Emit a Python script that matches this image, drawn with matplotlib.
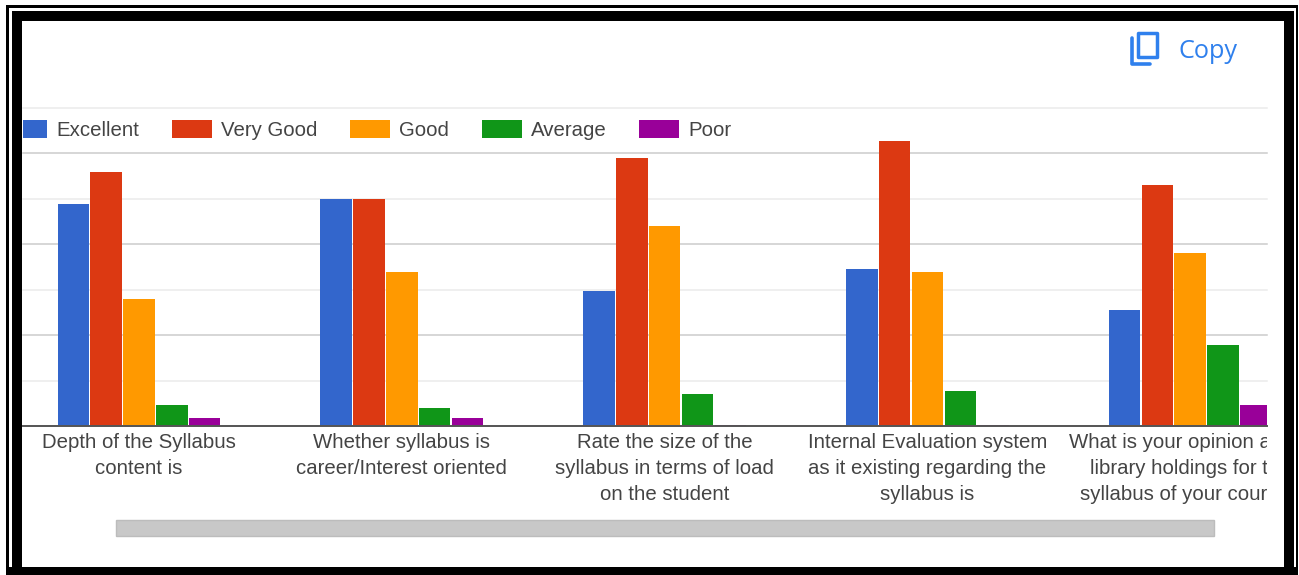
#!/usr/bin/env python3

import numpy as np
import matplotlib
matplotlib.use('Agg')
import matplotlib.pyplot as plt
from matplotlib.lines import Line2D
from matplotlib.patches import Rectangle
from matplotlib.transforms import Bbox, TransformedBbox

W, H = 1299, 575

categories = [
    "Depth of the Syllabus\ncontent is",
    "Whether syllabus is\ncareer/Interest oriented",
    "Rate the size of the\nsyllabus in terms of load\non the student",
    "Internal Evaluation system\nas it existing regarding the\nsyllabus is",
    "What is your opinion about\nlibrary holdings for the\nsyllabus of your course?",
]
series_names = ["Excellent", "Very Good", "Good", "Average", "Poor"]
excellent = [48.9, 50.0, 29.7, 34.6, 25.5]
very_good = [55.9, 50.0, 59.0, 62.7, 53.0]
good = [28.0, 33.9, 44.0, 33.9, 38.0]
average = [4.6, 4.0, 7.0, 7.7, 17.8]
poor = [1.8, 1.8, 0.3, 0.3, 4.6]
colors = ["#3366cc", "#dc3912", "#ff9900", "#109618", "#990099"]
major_ticks = [0, 20, 40, 60]
minor_ticks = [10, 30, 50, 70]

plt.rcParams['font.family'] = ['Liberation Sans', 'DejaVu Sans']
TEXT = "#444444"
BLUE = "#2f80ed"
FONT = 14.7


def fig_box(x0, y0, x1, y1, **kw):
    # rectangle given in picture pixels, y going down
    return Rectangle((x0 / W, 1 - y1 / H), (x1 - x0) / W, (y1 - y0) / H,
                     transform=fig.transFigure, **kw)


fig = plt.figure(figsize=(W / 100, H / 100), dpi=100, facecolor='white')

ax = fig.add_axes([23 / W, 1 - 426 / H, (1267 - 23) / W, (426 - 108) / H])
ax.set_xlim(-0.4414, 4.292)
ax.set_ylim(0, 70)
ax.set_axisbelow(True)

x = np.arange(len(categories))
pitch = 1 / 8
all_series = [excellent, very_good, good, average, poor]
for j, values in enumerate(all_series):
    ax.bar(x + (j - 2) * pitch, values, width=pitch * 0.96,
           color=colors[j], label=series_names[j])

# alternating grid, the even lines are darker
ax.set_yticks(major_ticks)
ax.set_yticks(minor_ticks, minor=True)
ax.tick_params(axis='y', which='both', length=0, labelleft=False)
ax.tick_params(axis='x', length=0, pad=5.2, labelsize=FONT, labelcolor=TEXT)
ax.grid(axis='y', which='major', color="#cccccc", lw=1.1, clip_on=False)
ax.grid(axis='y', which='minor', color="#ebebeb", lw=1.1, clip_on=False)
for name in ['top', 'left', 'right']:
    ax.spines[name].set_visible(False)
ax.spines['bottom'].set_color("#555555")
ax.spines['bottom'].set_linewidth(1.4)

ax.set_xticks(x)
labels = ax.set_xticklabels(categories, linespacing=1.47)
clip = TransformedBbox(Bbox([[0, 0], [1267 / W, 1]]), fig.transFigure)
for lab in labels:
    lab.set_clip_on(True)
    lab.set_clip_box(clip)

leg = ax.legend(ncol=5, frameon=False, fontsize=FONT, labelcolor=TEXT,
                loc='center left', bbox_to_anchor=((7 - 23) / (1267 - 23), 0.931),
                borderpad=0, borderaxespad=0, handlelength=1.96, handleheight=1.0,
                handletextpad=0.45, columnspacing=1.6)
for p in leg.get_patches():
    p.set_clip_box(ax.bbox)
    p.set_clip_on(True)

# scroll bar
fig.add_artist(fig_box(115.5, 520, 1213.5, 536, facecolor="#c8c8c8",
                       edgecolor="#bcbcbc", lw=1))

# copy button
fig.add_artist(fig_box(1138, 33, 1157, 57, facecolor='none', edgecolor=BLUE, lw=2.5,
                       joinstyle='round'))
fig.add_artist(Line2D([1131.5 / W, 1131.5 / W, 1150 / W],
                      [1 - 38 / H, 1 - 63.5 / H, 1 - 63.5 / H],
                      transform=fig.transFigure, color=BLUE, lw=2.6,
                      solid_capstyle='round', solid_joinstyle='round'))
fig.text(1179 / W, 1 - 51 / H, "Copy", color=BLUE, fontsize=18.2, family='Open Sans',
         ha='left', va='center')

# double black border of the screenshot
for x0, y0, x1, y1 in [(6, 5, 9, H), (12, 11, 22, H), (1284, 11, 1294, H),
                       (1296, 5, 1298, H), (6, 5, 1298, 8), (12, 11, 1294, 21),
                       (6, 567, 1298, H)]:
    fig.add_artist(fig_box(x0, y0, x1, y1, facecolor='black', edgecolor='none'))

fig.savefig('out.png', dpi=100)
